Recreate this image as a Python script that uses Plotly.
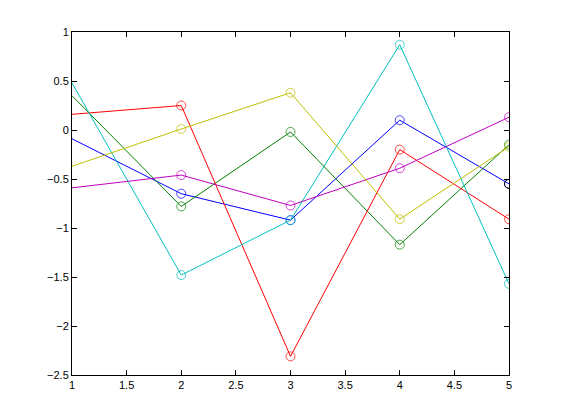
import plotly.graph_objects as go

x = [1, 2, 3, 4, 5]
blue = [-0.09, -0.65, -0.92, 0.10, -0.55]
green = [0.35, -0.78, -0.02, -1.17, -0.15]
red = [0.16, 0.25, -2.31, -0.20, -0.91]
cyan = [0.48, -1.48, -0.92, 0.87, -1.57]
magenta = [-0.59, -0.46, -0.77, -0.39, 0.13]
yellow = [-0.37, 0.01, 0.38, -0.91, -0.17]
black_x = [5]
black = [-0.55]

# first point carries no marker in the reference
msize = [0, 9, 9, 9, 9]

fig = go.Figure()
series = [(blue, "#0000ff"), (green, "#008000"), (red, "#ff0000"),
          (cyan, "#00bfbf"), (magenta, "#bf00bf"), (yellow, "#bfbf00")]
for ys, c in series:
    fig.add_trace(go.Scatter(x=x, y=ys, mode="lines+markers",
                             line=dict(color=c, width=1),
                             marker=dict(symbol="circle-open", size=msize, color=c, line=dict(width=1))))
fig.add_trace(go.Scatter(x=black_x, y=black, mode="markers",
                         marker=dict(symbol="circle-open", size=9, color="black", line=dict(width=1))))

ax = dict(showline=True, linecolor="black", linewidth=1, mirror="ticks", ticks="inside",
          ticklen=5, tickcolor="black", showgrid=False, zeroline=False,
          tickfont=dict(family="Liberation Sans, Arial", size=11, color="black"))
fig.update_layout(width=561, height=420, showlegend=False,
                  paper_bgcolor="white", plot_bgcolor="white",
                  margin=dict(l=64, r=60, t=24, b=53),
                  xaxis=dict(range=[1, 5], dtick=0.5, **ax),
                  yaxis=dict(range=[-2.5, 1], dtick=0.5, **ax))
fig.write_html("out.html")
